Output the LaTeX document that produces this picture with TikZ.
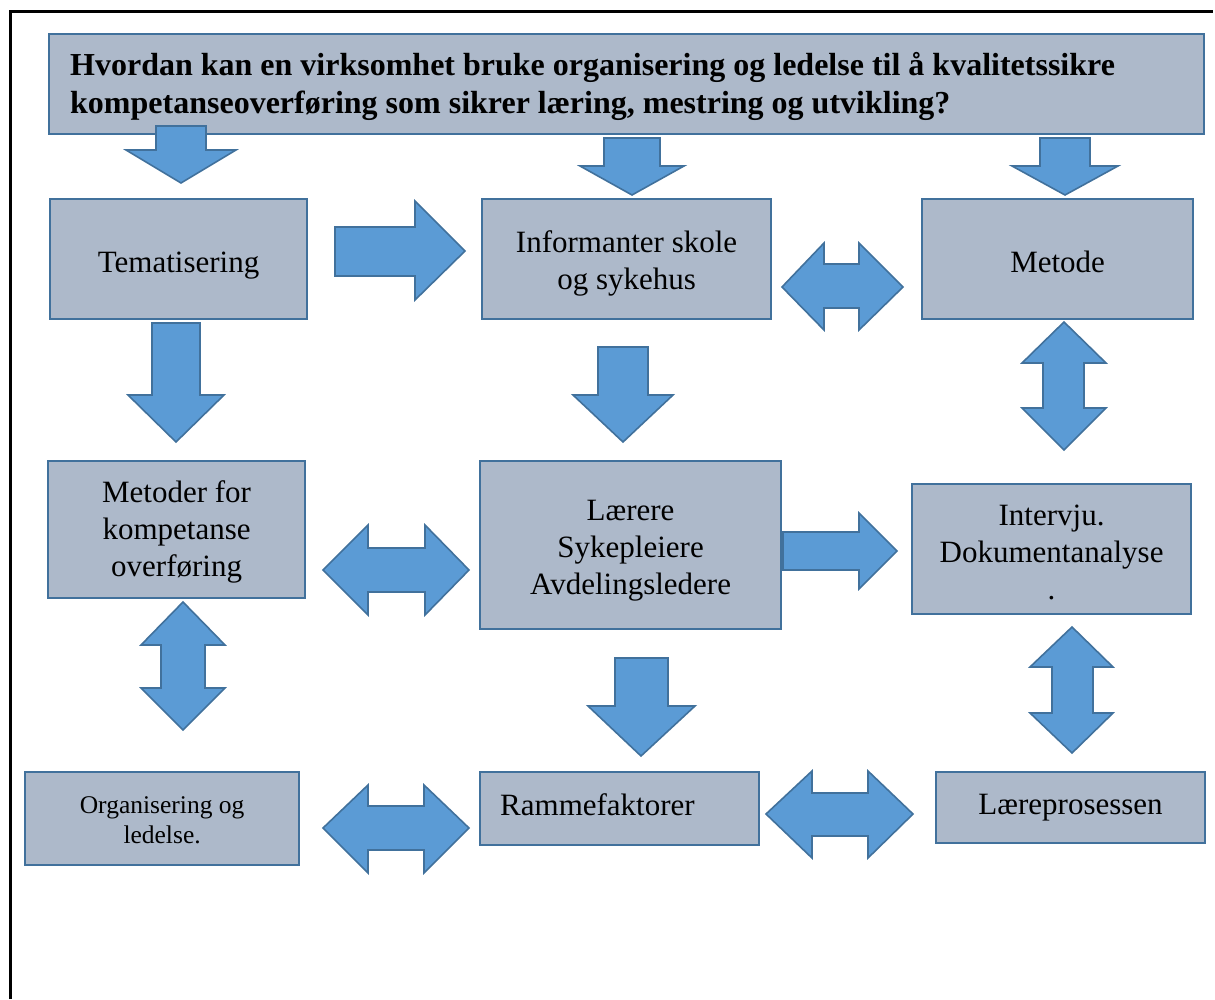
\documentclass[tikz,border=0pt]{standalone}
\usepackage{fontspec}
\setmainfont{Liberation Serif}
\definecolor{boxfill}{HTML}{ADB9CA}
\definecolor{boxline}{HTML}{41719C}
\definecolor{arrfill}{HTML}{5B9BD5}
\tikzset{
  box/.style={draw=boxline, fill=boxfill, line width=2.2pt, anchor=north west, inner sep=0pt},
  lbl/.style={inner sep=0pt, align=center, font=\fontsize{31}{37}\selectfont},
  blockarrow/.style={draw=boxline, fill=arrfill, line width=1.6pt, line join=miter},
  frame/.style={line width=3pt, black}
}
\begin{document}
\begin{tikzpicture}[x=1pt,y=-1pt]
\useasboundingbox (0,0) rectangle (1215,999);
% frame
\coordinate (fa) at (10,999);
\coordinate (fb) at (10,11);
\coordinate (fc) at (1213,11);
\draw[frame] (fa) -- (fb) -- (fc);
% boxes
\node[box, minimum width=1155pt, minimum height=100pt] (title) at (48,33) {};
\node[box, minimum width=257pt, minimum height=120pt] (tem) at (49,198) {};
\node[box, minimum width=289pt, minimum height=120pt] (inf) at (481,198) {};
\node[box, minimum width=271pt, minimum height=120pt] (met) at (921,198) {};
\node[box, minimum width=257pt, minimum height=137pt] (mko) at (47,460) {};
\node[box, minimum width=301pt, minimum height=168pt] (lae) at (479,460) {};
\node[box, minimum width=279pt, minimum height=130pt] (int) at (911,483) {};
\node[box, minimum width=274pt, minimum height=93pt] (org) at (24,771) {};
\node[box, minimum width=279pt, minimum height=73pt] (ram) at (479,771) {};
\node[box, minimum width=269pt, minimum height=71pt] (lpr) at (935,771) {};
% labels
\node[lbl, anchor=west, align=left, font=\fontsize{32}{38}\selectfont\bfseries] (titlet) at ([xshift=22pt,yshift=-2pt]title.west)
  {Hvordan kan en virksomhet bruke organisering og ledelse til å kvalitetssikre\\kompetanseoverføring som sikrer læring, mestring og utvikling?};
\node[lbl] (temt) at ([yshift=-6pt]tem.center) {Tematisering};
\node[lbl] (inft) at ([yshift=-4pt]inf.center) {Informanter skole\\og sykehus};
\node[lbl] (mett) at ([yshift=-3pt]met.center) {Metode};
\node[lbl] (mkot) at ([yshift=-2pt]mko.center) {Metoder for\\kompetanse\\overføring};
\node[lbl] (laet) at ([yshift=-6pt]lae.center) {Lærere\\Sykepleiere\\Avdelingsledere};
\node[lbl] (intt) at ([yshift=-3pt]int.center) {Intervju.\\Dokumentanalyse\\.};
\node[lbl, font=\fontsize{25.5}{30}\selectfont] (orgt) at ([yshift=-2pt]org.center) {Organisering og\\ledelse.};
\node[lbl, anchor=west] (ramt) at ([xshift=21pt,yshift=4pt]ram.west) {Rammefaktorer};
\node[lbl] (lprt) at (lpr.center) {Læreprosessen};
% block arrows
% title -> tem
\draw[blockarrow] (156,126) -- (206,126) -- (206,150) -- (236,150) -- (181,183) -- (126,150) -- (156,150) -- cycle;
% title -> inf
\draw[blockarrow] (604,138) -- (660,138) -- (660,166) -- (684,166) -- (632,195) -- (580,166) -- (604,166) -- cycle;
% title -> met
\draw[blockarrow] (1040,138) -- (1090,138) -- (1090,166) -- (1118,166) -- (1065,195) -- (1012,166) -- (1040,166) -- cycle;
% tem -> inf
\draw[blockarrow] (335,227) -- (415,227) -- (415,201) -- (465,251) -- (415,300) -- (415,276) -- (335,276) -- cycle;
% inf <-> met
\draw[blockarrow] (782,287) -- (824,243) -- (824,264) -- (859,264) -- (859,243) -- (903,287) -- (859,330) -- (859,308) -- (824,308) -- (824,330) -- cycle;
% tem -> mko
\draw[blockarrow] (152,323) -- (200,323) -- (200,395) -- (224,395) -- (176,442) -- (128,395) -- (152,395) -- cycle;
% inf -> lae
\draw[blockarrow] (598,347) -- (648,347) -- (648,395) -- (673,395) -- (623,442) -- (573,395) -- (598,395) -- cycle;
% met <-> int
\draw[blockarrow] (1064,322) -- (1106,363) -- (1084,363) -- (1084,408) -- (1106,408) -- (1064,450) -- (1022,408) -- (1043,408) -- (1043,363) -- (1022,363) -- cycle;
% mko <-> lae
\draw[blockarrow] (323,570) -- (368,525) -- (368,548) -- (425,548) -- (425,525) -- (469,570) -- (425,615) -- (425,592) -- (368,592) -- (368,615) -- cycle;
% lae -> int
\draw[blockarrow] (783,532) -- (859,532) -- (859,513) -- (897,551) -- (859,589) -- (859,570) -- (783,570) -- cycle;
% mko <-> org
\draw[blockarrow] (183,602) -- (225,645) -- (205,645) -- (205,688) -- (225,688) -- (183,730) -- (141,688) -- (161,688) -- (161,645) -- (141,645) -- cycle;
% lae -> ram
\draw[blockarrow] (615,658) -- (668,658) -- (668,706) -- (695,706) -- (641,756) -- (588,706) -- (615,706) -- cycle;
% org <-> ram
\draw[blockarrow] (323,828) -- (368,785) -- (368,806) -- (424,806) -- (424,785) -- (469,828) -- (424,873) -- (424,850) -- (368,850) -- (368,873) -- cycle;
% ram <-> lpr
\draw[blockarrow] (766,814) -- (812,771) -- (812,793) -- (868,793) -- (868,771) -- (913,814) -- (868,858) -- (868,836) -- (812,836) -- (812,858) -- cycle;
% int <-> lpr
\draw[blockarrow] (1072,627) -- (1113,667) -- (1093,667) -- (1093,713) -- (1113,713) -- (1072,753) -- (1030,713) -- (1052,713) -- (1052,667) -- (1030,667) -- cycle;
\end{tikzpicture}
\end{document}
